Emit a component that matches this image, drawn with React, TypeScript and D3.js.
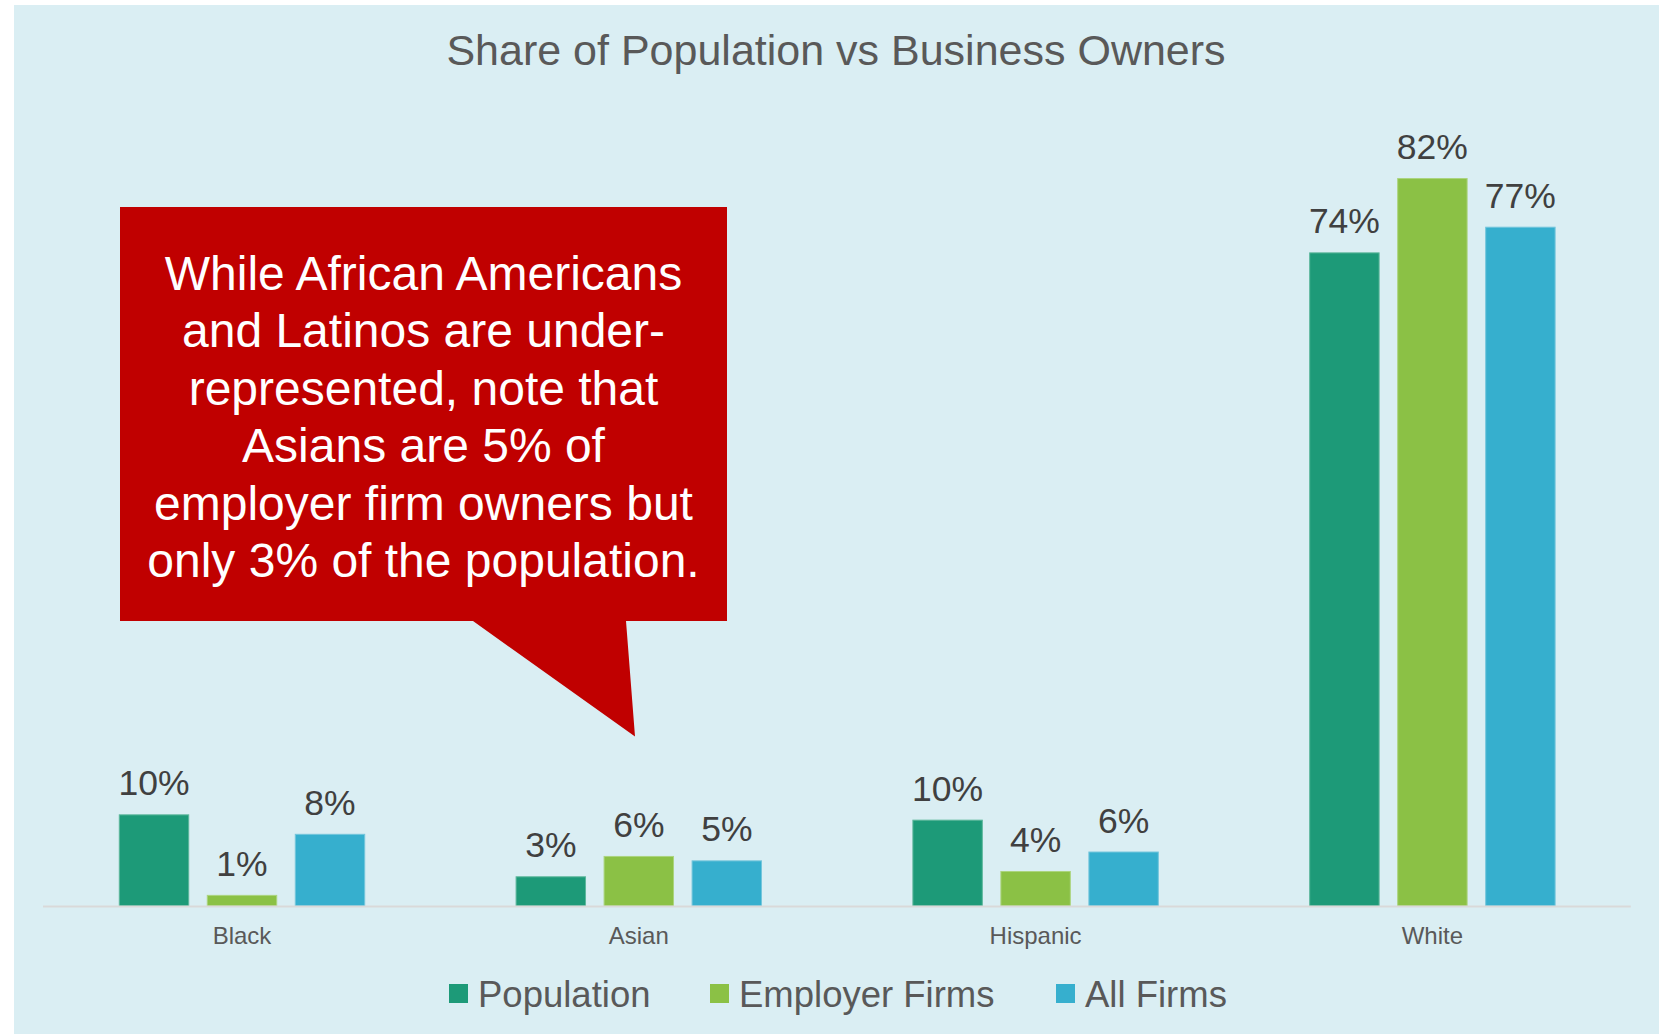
import React from "react";
import { scaleBand, scaleLinear, format } from "d3";

// chart data
const categories = ["Black", "Asian", "Hispanic", "White"];
const seriesNames = ["Population", "Employer Firms", "All Firms"];
const population = [0.103, 0.033, 0.097, 0.738];
const employerFirms = [0.012, 0.056, 0.039, 0.822];
const allFirms = [0.081, 0.051, 0.061, 0.767];
const seriesColors = ["#1D9A78", "#8BC145", "#36AFCE"];
const seriesStrokes = ["#5DB79C", "#ACD47E", "#74C6DC"];
const calloutLines = [
  "While African Americans",
  "and Latinos are under-",
  "represented, note that",
  "Asians are 5% of",
  "employer firm owners but",
  "only 3% of the population.",
];

const W = 1665;
const H = 1034;
const FONT = "'Liberation Sans', Arial, sans-serif";

export default function App() {
  const seriesValues = [population, employerFirms, allFirms];
  const fmt = format(".0%");

  const x0 = scaleBand()
    .domain(categories)
    .range([43.6, 1630.8])
    .paddingInner(0.3815)
    .paddingOuter(0.19075);

  const x1 = scaleBand()
    .domain(seriesNames)
    .range([0, x0.bandwidth()])
    .paddingInner(0.211)
    .paddingOuter(0);

  const y = scaleLinear().domain([0, 0.9]).range([906, 109.5]);

  // legend offsets (from legend start)
  const legendX = [449, 710, 1056];

  return (
    <div style={{ position: "absolute", left: 0, top: 0, width: W, height: H, background: "#fff" }}>
      <svg width={W} height={H} style={{ display: "block" }} fontFamily={FONT}>
        <rect x={14} y={5} width={1645} height={H - 5} fill="#DAEEF3" />

        <text x={836} y={65} textAnchor="middle" fontSize={43} fill="#595959">
          Share of Population vs Business Owners
        </text>

        {/* bars */}
        {categories.map((cat, ci) => (
          <g key={cat} transform={`translate(${x0(cat)},0)`}>
            {seriesNames.map((s, si) => {
              const v = seriesValues[si][ci];
              return (
                <g key={s}>
                  <rect
                    x={x1(s)}
                    y={y(v)}
                    width={x1.bandwidth()}
                    height={y(0) - y(v)}
                    fill={seriesColors[si]}
                    stroke={seriesStrokes[si]}
                    strokeWidth={1}
                  />
                  <text
                    x={(x1(s) as number) + x1.bandwidth() / 2}
                    y={y(v) - 19.5}
                    textAnchor="middle"
                    fontSize={35.5}
                    fill="#404040"
                  >
                    {fmt(v)}
                  </text>
                </g>
              );
            })}
          </g>
        ))}

        {/* axis */}
        <line x1={43} x2={1630.8} y1={906.5} y2={906.5} stroke="#D9D9D9" strokeWidth={2} />
        {categories.map((cat) => (
          <text
            key={cat}
            x={(x0(cat) as number) + x0.bandwidth() / 2}
            y={944}
            textAnchor="middle"
            fontSize={24}
            fill="#595959"
          >
            {cat}
          </text>
        ))}

        {/* legend */}
        {seriesNames.map((s, i) => (
          <g key={s} transform={`translate(${legendX[i]},0)`}>
            <rect x={0} y={984} width={19} height={19} fill={seriesColors[i]} />
            <text x={29} y={1006.5} fontSize={36.5} fill="#595959">
              {s}
            </text>
          </g>
        ))}

        {/* callout */}
        <path
          d="M120,207 L727,207 L727,621 L626,621 L635,736.5 L473,621 L120,621 Z"
          fill="#C00000"
        />
        {calloutLines.map((t, i) => (
          <text
            key={i}
            x={423.5}
            y={290 + i * 57.4}
            textAnchor="middle"
            fontSize={48}
            fill="#fff"
          >
            {t}
          </text>
        ))}
      </svg>
    </div>
  );
}
